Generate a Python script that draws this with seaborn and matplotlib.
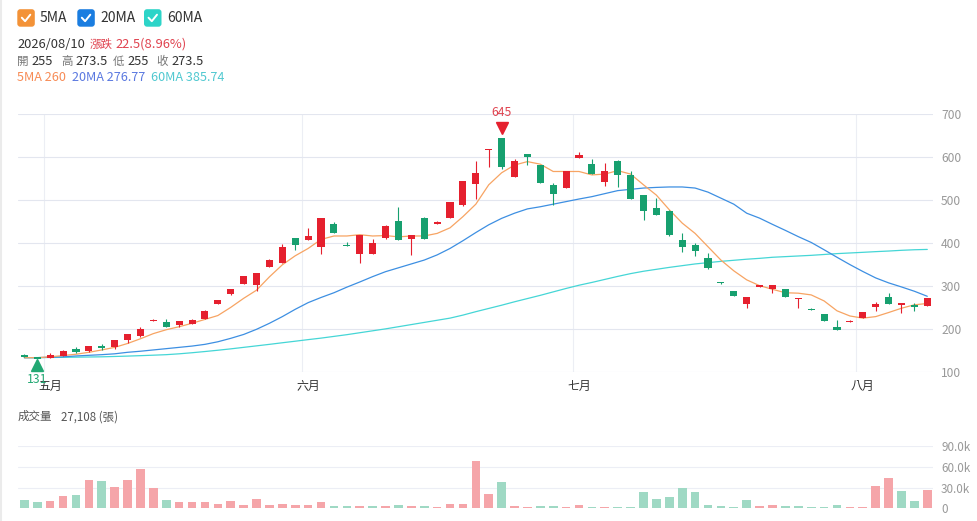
import numpy as np
import pandas as pd
import matplotlib
matplotlib.use('Agg')
import matplotlib.pyplot as plt
import matplotlib.transforms as mtransforms
from matplotlib.patches import FancyBboxPatch
from matplotlib.lines import Line2D
import seaborn as sns

# daily candles, 2026/04/29 .. 2026/08/10
opens = [141, 134, 134, 138, 155, 150, 161, 158, 175, 184,
         220, 216, 209, 213, 224, 260, 281, 306, 303, 346,
         355, 412, 408, 391, 446, 395.5, 374, 375, 412, 452,
         409, 460, 446, 460, 488, 537, 617, 645, 555, 607,
         582, 535, 529, 599, 584, 542, 592, 559, 512, 483,
         476, 408, 396, 365, 310, 289, 260, 300, 293, 293,
         271, 248, 235.5, 206, 217, 226, 251, 275, 258, 255.5,
         255]
highs = [142, 134.5, 144, 151, 158, 162, 165, 175, 190, 206,
         223, 223, 219.5, 223, 244, 268.5, 294.5, 323.5, 330.5, 362.5,
         398, 413, 435, 459, 450, 402, 420, 411, 442, 484,
         420, 462, 451, 496, 545, 591, 619, 645, 597, 608,
         583, 541, 569, 612, 595, 586, 593, 567, 513, 506,
         477, 423, 401, 377, 310.5, 290, 274.5, 302.5, 302.5, 294,
         273.5, 248.5, 236, 222, 220.5, 240.5, 264, 285, 259, 262,
         273.5]
lows = [135, 131, 133, 137, 145.5, 147, 152, 153.5, 169, 181,
        219, 205, 205, 212, 223, 259, 280, 305, 290, 345,
        354, 385, 407, 375, 424, 394, 355, 374, 411, 407,
        373, 410, 445, 459, 487, 502, 577, 573, 554, 582,
        540, 489, 528, 598, 560, 534, 532, 502, 454, 465,
        418, 379, 371, 341, 306.5, 277, 250, 299.5, 284, 274,
        249, 245, 220, 198, 216.5, 225.5, 243, 259.5, 237, 243,
        255]
closes = [136, 132, 140, 150, 147, 161, 156, 174, 189, 201,
          222, 205, 219, 222, 243, 268, 294, 323, 330, 362,
          392, 395, 418, 458, 425, 394.5, 419, 401, 441, 408,
          419, 411, 450, 495, 544, 563, 619, 578, 591, 601,
          541, 515, 568, 605, 561, 567, 558, 503, 475, 466,
          419, 391, 381, 342, 307, 277.5, 274, 301.5, 302, 274.5,
          273, 245.5, 220, 198.5, 220, 240, 260, 260, 259, 251,
          273.5]
prev_close = 138

volumes = [12500, 9100, 11000, 18300, 19300, 40900, 39500, 30300, 40900, 56800,
           29900, 12500, 8700, 8700, 9600, 6700, 10600, 5300, 13500, 4800,
           5800, 4300, 4300, 8700, 2900, 2900, 3900, 2900, 3900, 4800,
           3900, 3900, 2400, 6700, 5800, 67900, 20200, 38500, 3400, 2400,
           3400, 3900, 2400, 4300, 1900, 2400, 1900, 2400, 23600, 13500,
           16900, 29400, 23100, 4300, 3400, 1400, 12000, 2900, 4800, 3400,
           2900, 1900, 1900, 4300, 1400, 2400, 32700, 43300, 25500, 11000,
           27108]

ma5 = [134, 134, 136, 139, 142, 146.5, 152, 158, 167, 178,
       190, 199, 206, 214, 223, 232, 251, 272, 291, 322,
       350, 371, 388, 409, 417, 417, 420, 417, 418, 415,
       417, 417, 423, 436, 462, 491, 536, 564, 582, 590,
       584, 567, 567, 567, 559, 561, 569, 561, 536, 512,
       478, 447, 423, 392, 361, 336, 315, 301.5, 293, 285,
       284, 280, 266, 243, 231, 226, 229.5, 239, 249, 257,
       260]
ma20 = [134, 134, 135, 136, 138, 139.5, 141, 143, 146.5, 149,
        152, 155, 158, 161, 165, 171, 179, 188, 200, 214,
        229.5, 246.5, 262, 274, 285, 298, 310, 322.5, 334, 343,
        352, 361, 373, 388, 406, 425, 443, 458, 470, 480,
        485, 491, 497, 503, 508.5, 515.5, 522.5, 525.5, 528.5, 530,
        531, 531, 528.5, 519, 505, 491, 470, 458.5, 444, 430,
        415.5, 402, 385, 367.5, 350.5, 334.5, 319.5, 308, 298.5, 288.5,
        276.77]
ma60 = [134, 134.2, 134.5, 134.8, 135.2, 135.6, 136, 136.8, 137.7, 138.7,
        139.8, 141, 143, 145.5, 148.3, 151.3, 154.5, 158, 161.5, 165,
        168.7, 172.3, 176, 179.5, 183.5, 187.5, 192, 196.5, 201, 206,
        211, 216, 221, 226, 233, 241, 248.5, 256, 264, 271.5,
        279, 287, 295, 302.5, 309, 316, 323, 329.5, 335, 339.5,
        344, 348, 352, 355, 358, 360.5, 363, 365, 367.5, 369,
        370.5, 372, 374, 376, 377.5, 379, 380.6, 382, 383.7, 385,
        385.74]

month_labels = ['五月', '六月', '七月', '八月']
month_start = [2, 22, 43, 65]
price_ticks = [100, 200, 300, 400, 500, 600, 700]
vol_ticks = [0, 30000, 60000, 90000]
vol_tick_labels = ['0', '30.0k', '60.0k', '90.0k']

RED = '#e5202e'
GREEN = '#17a06f'
RED_L = '#f5a5a9'
GREEN_L = '#9fd9c4'
C5, C20, C60 = '#f7a463', '#3d8fe2', '#45d6d6'
GRID = '#e3e6ef'

sns.set_theme(style='white')
plt.rcParams['font.family'] = ['Noto Sans CJK TC', 'DejaVu Sans']

df = pd.DataFrame({'open': opens, 'high': highs, 'low': lows, 'close': closes,
                   'volume': volumes, 'ma5': ma5, 'ma20': ma20, 'ma60': ma60})
df['idx'] = np.arange(len(df))
df['up'] = df['close'] >= df['open']
df['vol_dir'] = np.where(df['close'] >= df['close'].shift(1, fill_value=prev_close), 'up', 'down')

W, H = 977, 521
fig = plt.figure(figsize=(W / 100, H / 100), dpi=100)
ax = fig.add_axes([18.3 / W, 1 - 372.3 / H, 914.4 / W, 258 / H])
axv = fig.add_axes([18.3 / W, 1 - 508.3 / H, 914.4 / W, 62.3 / H])

# candles
cols = np.where(df['up'], RED, GREEN)
ax.vlines(df['idx'], df['low'], df['high'], colors=cols, linewidth=0.8, zorder=3)
lo = np.minimum(df['open'], df['close'])
hgt = (df['close'] - df['open']).abs()
mid = (df['open'] + df['close']) / 2
bottom = np.where(hgt < 3, mid - 1.5, lo)
hgt = np.maximum(hgt, 3)
ax.bar(df['idx'], hgt, bottom=bottom, width=0.55, color=cols, linewidth=0, zorder=4)

# moving averages
for col, c in [('ma60', C60), ('ma20', C20), ('ma5', C5)]:
    sns.lineplot(data=df, x='idx', y=col, ax=ax, color=c, linewidth=0.9, zorder=2, legend=False)

# max / min markers
imax = int(np.argmax(highs))
imin = int(np.argmin(lows))
up_pt = mtransforms.offset_copy(ax.transData, fig=fig, x=0, y=7.5, units='points')
ax.plot(imax, highs[imax], marker='v', color=RED, markersize=9, transform=up_pt, clip_on=False, zorder=5)
ax.annotate(f'{highs[imax]:g}', (imax, highs[imax]), xytext=(0, 18), textcoords='offset points',
            ha='center', va='center', color='#e0434f', fontsize=8.8)
dn_pt = mtransforms.offset_copy(ax.transData, fig=fig, x=0, y=-4.3, units='points')
ax.plot(imin, lows[imin], marker='^', color='#22a873', markersize=9, transform=dn_pt, clip_on=False, zorder=5)
ax.annotate(f'{lows[imin]:g}', (imin, lows[imin]), xytext=(0, -14.5), textcoords='offset points',
            ha='center', va='center', color='#22a873', fontsize=8.8, annotation_clip=False)

for m in month_start:
    ax.axvline(m - 0.5, color='#eceef4', linewidth=0.8, zorder=0)

ax.set_xlim(-0.47, 70.42)
ax.set_ylim(100, 700)
ax.set_yticks(price_ticks)
ax.yaxis.tick_right()
ax.yaxis.grid(True, color=GRID, linewidth=0.8)
ax.set_xticks(month_start, month_labels)
ax.tick_params(axis='x', length=0, pad=5.5, labelsize=8.6, labelcolor='#333333')
ax.tick_params(axis='y', length=0, pad=6, labelsize=8.7, labelcolor='#999999')
ax.set_xlabel('')
ax.set_ylabel('')
for s in ax.spines.values():
    s.set_visible(False)

# volume
sns.barplot(data=df, x='idx', y='volume', hue='vol_dir', palette={'up': RED_L, 'down': GREEN_L},
            native_scale=True, width=0.67, dodge=False, errorbar=None, legend=False,
            saturation=1, linewidth=0, ax=axv, zorder=3)
axv.set_xlim(-0.47, 70.42)
axv.set_ylim(0, 90000)
axv.set_yticks(vol_ticks, vol_tick_labels)
axv.yaxis.tick_right()
axv.yaxis.grid(True, color='#eceef5', linewidth=0.8)
axv.set_axisbelow(True)
axv.set_xticks([])
axv.tick_params(axis='y', length=0, pad=6, labelsize=8.4, labelcolor='#999999')
axv.set_xlabel('')
axv.set_ylabel('')
for s in axv.spines.values():
    s.set_visible(False)


def ftext(x, y, s, color='#333333', size=9.3):
    fig.text(x / W, 1 - y / H, s, color=color, fontsize=size, ha='left', va='center')


# legend with check boxes
pix = mtransforms.IdentityTransform()
for bx, tx, c, name in [(17.3, 39.3, '#f39237', '5MA'), (77.3, 100, '#1a7de0', '20MA'),
                        (144, 167, '#2dd4c8', '60MA')]:
    y0 = H - 26.7
    fig.add_artist(FancyBboxPatch((bx, y0), 17.5, 17.5, boxstyle='round,pad=0,rounding_size=3',
                                  transform=pix, facecolor=c, edgecolor='none'))
    fig.add_artist(Line2D([bx + 4.5, bx + 7.8, bx + 13], [y0 + 9, y0 + 5.5, y0 + 12],
                          transform=pix, color='white', linewidth=1.4))
    ftext(tx, 18, name, '#333333', 10)

last = df.iloc[-1]
prev = df['close'].iloc[-2]
chg = last['close'] - prev
ftext(17.3, 44.5, '2026/08/10', '#333333')
ftext(89.3, 44.5, '漲跌', '#e0434f', 8.3)
ftext(115, 44.5, f'{chg:g}({chg / prev * 100:.2f}%)', '#e0434f')
for lx, lab, val in [(17.3, '開', last['open']), (61, '高', last['high']),
                     (113, '低', last['low']), (156.7, '收', last['close'])]:
    ftext(lx, 61.7, lab, '#777777', 8.3)
    ftext(lx + 14.4, 61.7, f'{val:g}', '#333333')
ftext(17.3, 77.3, f'5MA {ma5[-1]:g}', '#f78b55', 9.1)
ftext(71.7, 77.3, f'20MA {ma20[-1]:g}', '#5a78e0', 9.1)
ftext(150.7, 77.3, f'60MA {ma60[-1]:g}', '#4fc8d0', 9.1)

ftext(17.3, 416.7, '成交量', '#555555', 8.3)
ftext(61, 416.7, f'{volumes[-1]:,} (張)', '#555555', 8.3)

fig.add_artist(Line2D([1, 1], [0, H], transform=pix, color='#ebebeb', linewidth=1.5))

fig.savefig('out.png', dpi=100)
